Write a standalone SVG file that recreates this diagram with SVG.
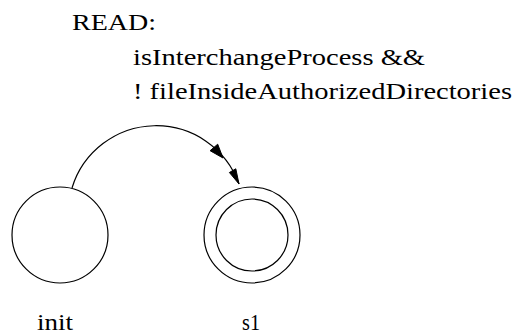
<svg xmlns="http://www.w3.org/2000/svg" width="516" height="334" viewBox="0 0 516 334">
<style>
.t{font-family:"Liberation Serif","Times New Roman",serif;font-size:24px;fill:#000}
.st{fill:none;stroke:#000;stroke-width:1.2}
.ah{fill:#000;stroke:#000;stroke-width:1}
</style>
<rect width="516" height="334" fill="#fff"/>
<g id="connectors">
<path class="st" d="M72,188 A88,88 0 0 1 239,184"/>
<polygon class="ah" points="223,158 210.1,150.7 217.7,144.2"/>
<polygon class="ah" points="239,184 229.4,172.5 235.8,168.8"/>
<g id="edge-label">
<text class="t" x="72" y="30" textLength="84" lengthAdjust="spacingAndGlyphs">READ:</text>
<text class="t" x="133" y="65" textLength="292" lengthAdjust="spacingAndGlyphs">isInterchangeProcess &amp;&amp;</text>
<text class="t" x="133" y="99" textLength="379" lengthAdjust="spacingAndGlyphs">! fileInsideAuthorizedDirectories</text>
</g>
</g>
<g id="init">
<circle class="st" cx="60" cy="235" r="48"/>
<text class="t" x="37" y="330" textLength="36" lengthAdjust="spacingAndGlyphs">init</text>
</g>
<g id="s1">
<circle class="st" cx="252" cy="235" r="48"/>
<circle class="st" cx="252" cy="235" r="36"/>
<text class="t" x="242" y="330" textLength="18" lengthAdjust="spacingAndGlyphs">s1</text>
</g>
</svg>
